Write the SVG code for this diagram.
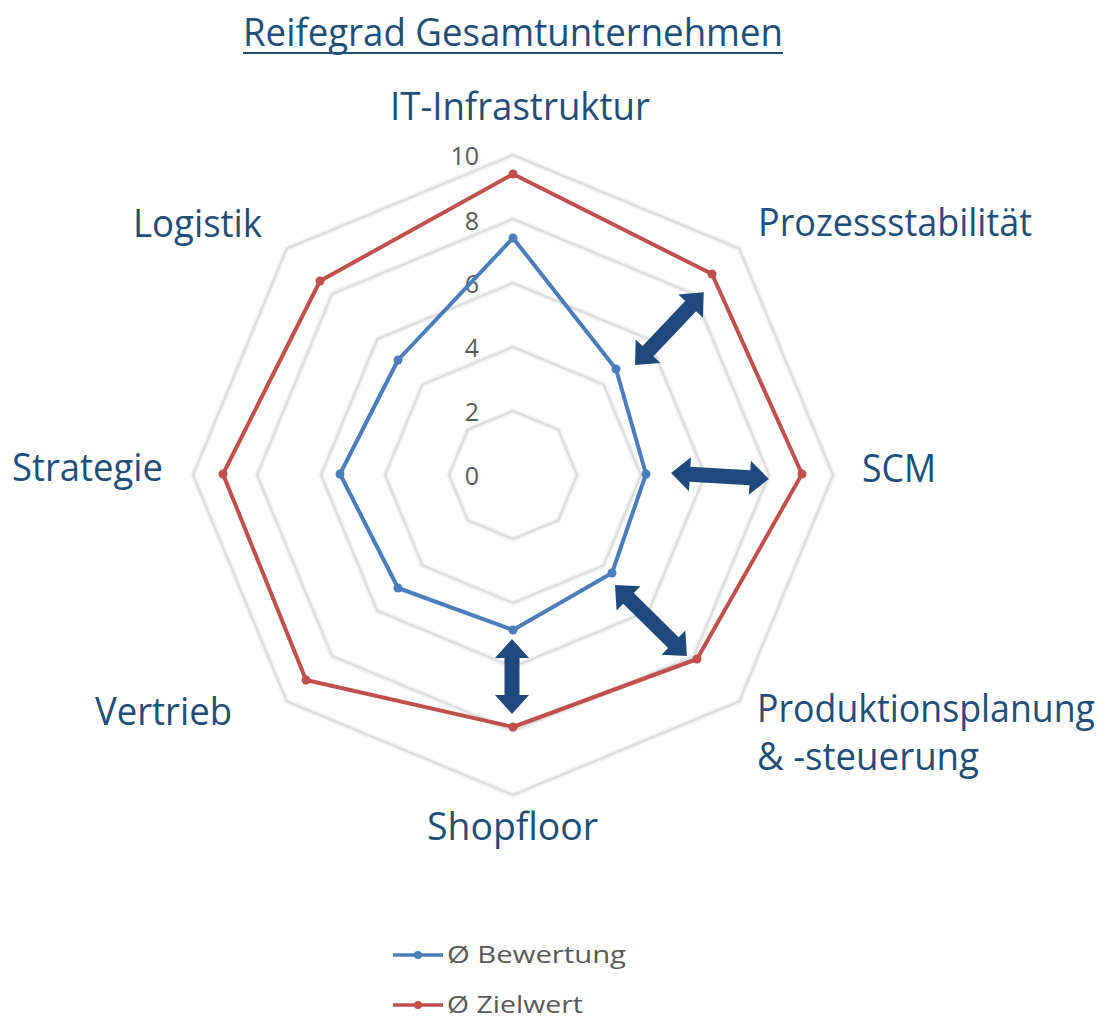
<svg xmlns="http://www.w3.org/2000/svg" width="1111" height="1019" viewBox="0 0 1111 1019">
<style>
.lbl{font-family:"Open Sans","Liberation Sans",sans-serif;font-size:38px;fill:#1f4e79}
.tick{font-family:"Open Sans","Liberation Sans",sans-serif;font-size:25px;fill:#595959;text-anchor:end}
.leg{font-family:"Open Sans","Liberation Sans",sans-serif;font-size:24px;fill:#595959}
.ringglow{fill:none;stroke:#f0f0f0;stroke-width:5;stroke-linejoin:miter}
.ring{fill:none;stroke:#d9d9d9;stroke-width:1.6;stroke-linejoin:miter}
.blue{fill:none;stroke:#4a7ebb;stroke-width:4;stroke-linejoin:round}
.red{fill:none;stroke:#c0504d;stroke-width:4;stroke-linejoin:round}
.bdot{fill:#4a7ebb}
.rdot{fill:#c0504d}
.arr{fill:#1f497d}
</style>
<rect width="1111" height="1019" fill="#ffffff"/>

<g id="title">
<text class="lbl" x="243" y="46" font-size="36" textLength="540" lengthAdjust="spacingAndGlyphs">Reifegrad Gesamtunternehmen</text>
<line x1="243" y1="53" x2="783" y2="53" stroke="#1f4e79" stroke-width="2"/>
</g>

<g id="grid">
<polygon class="ringglow" points="513,411 558.3,429.7 577,475 558.3,520.3 513,539 467.7,520.3 449,475 467.7,429.7"/>
<polygon class="ringglow" points="513,347 603.5,384.5 641,475 603.5,565.5 513,603 422.5,565.5 385,475 422.5,384.5"/>
<polygon class="ringglow" points="513,283 648.8,339.2 705,475 648.8,610.8 513,667 377.2,610.8 321,475 377.2,339.2"/>
<polygon class="ringglow" points="513,219 694,294 769,475 694,656 513,731 332,656 257,475 332,294"/>
<polygon class="ringglow" points="513,155 739.3,248.7 833,475 739.3,701.3 513,795 286.7,701.3 193,475 286.7,248.7"/>
<polygon class="ring" points="513,411 558.3,429.7 577,475 558.3,520.3 513,539 467.7,520.3 449,475 467.7,429.7"/>
<polygon class="ring" points="513,347 603.5,384.5 641,475 603.5,565.5 513,603 422.5,565.5 385,475 422.5,384.5"/>
<polygon class="ring" points="513,283 648.8,339.2 705,475 648.8,610.8 513,667 377.2,610.8 321,475 377.2,339.2"/>
<polygon class="ring" points="513,219 694,294 769,475 694,656 513,731 332,656 257,475 332,294"/>
<polygon class="ring" points="513,155 739.3,248.7 833,475 739.3,701.3 513,795 286.7,701.3 193,475 286.7,248.7"/>
</g>

<g id="ticks">
<text class="tick" x="479" y="165">10</text>
<text class="tick" x="479" y="230">8</text>
<text class="tick" x="479" y="293">6</text>
<text class="tick" x="479" y="357">4</text>
<text class="tick" x="479" y="421">2</text>
<text class="tick" x="479" y="485">0</text>
</g>

<g id="series-zielwert">
<polygon class="red" points="513,174 712,274 802,474 697,659 513,727 306,680 223,474 320,281"/>
<circle class="rdot" cx="513" cy="174" r="4.5"/>
<circle class="rdot" cx="712" cy="274" r="4.5"/>
<circle class="rdot" cx="802" cy="474" r="4.5"/>
<circle class="rdot" cx="697" cy="659" r="4.5"/>
<circle class="rdot" cx="513" cy="727" r="4.5"/>
<circle class="rdot" cx="306" cy="680" r="4.5"/>
<circle class="rdot" cx="223" cy="474" r="4.5"/>
<circle class="rdot" cx="320" cy="281" r="4.5"/>
</g>

<g id="series-bewertung">
<polygon class="blue" points="513,238 616,369 646,474 612,573 513,630 398,588 340,474 398,360"/>
<circle class="bdot" cx="513" cy="238" r="4.5"/>
<circle class="bdot" cx="616" cy="369" r="4.5"/>
<circle class="bdot" cx="646" cy="474" r="4.5"/>
<circle class="bdot" cx="612" cy="573" r="4.5"/>
<circle class="bdot" cx="513" cy="630" r="4.5"/>
<circle class="bdot" cx="398" cy="588" r="4.5"/>
<circle class="bdot" cx="340" cy="474" r="4.5"/>
<circle class="bdot" cx="398" cy="360" r="4.5"/>
</g>

<g id="connectors">
<path class="arr" transform="translate(635,365) rotate(-46.6)" d="M0,0 L19,-17 L19,-7.5 L81,-7.5 L81,-17 L100,0 L81,17 L81,7.5 L19,7.5 L19,17 Z"/>
<path class="arr" transform="translate(671,473) rotate(3.5)" d="M0,0 L19,-17 L19,-7.5 L79,-7.5 L79,-17 L98,0 L79,17 L79,7.5 L19,7.5 L19,17 Z"/>
<path class="arr" transform="translate(615,585) rotate(44.6)" d="M0,0 L19,-17 L19,-7.5 L82,-7.5 L82,-17 L101,0 L82,17 L82,7.5 L19,7.5 L19,17 Z"/>
<path class="arr" transform="translate(512,639) rotate(90)" d="M0,0 L19,-17 L19,-7.5 L56,-7.5 L56,-17 L75,0 L56,17 L56,7.5 L19,7.5 L19,17 Z"/>
</g>

<g id="axis-it"><text class="lbl" x="390" y="120" textLength="260" lengthAdjust="spacingAndGlyphs">IT-Infrastruktur</text></g>
<g id="axis-prozess"><text class="lbl" x="758" y="236" textLength="274" lengthAdjust="spacingAndGlyphs">Prozessstabilität</text></g>
<g id="axis-scm"><text class="lbl" x="862" y="482" textLength="74" lengthAdjust="spacingAndGlyphs">SCM</text></g>
<g id="axis-produktion">
<text class="lbl" x="757" y="722" font-size="33" textLength="338" lengthAdjust="spacingAndGlyphs">Produktionsplanung</text>
<text class="lbl" x="757" y="770" font-size="36" textLength="222" lengthAdjust="spacingAndGlyphs">&amp; -steuerung</text>
</g>
<g id="axis-shopfloor"><text class="lbl" x="427" y="840" textLength="171" lengthAdjust="spacingAndGlyphs">Shopfloor</text></g>
<g id="axis-vertrieb"><text class="lbl" x="95" y="725" textLength="137" lengthAdjust="spacingAndGlyphs">Vertrieb</text></g>
<g id="axis-strategie"><text class="lbl" x="12" y="481" textLength="151" lengthAdjust="spacingAndGlyphs">Strategie</text></g>
<g id="axis-logistik"><text class="lbl" x="133" y="237" textLength="129" lengthAdjust="spacingAndGlyphs">Logistik</text></g>

<g id="legend">
<line x1="393" y1="955" x2="443" y2="955" stroke="#4a7ebb" stroke-width="3.5"/>
<circle class="bdot" cx="418" cy="955" r="4"/>
<text class="leg" x="447" y="963" textLength="179" lengthAdjust="spacingAndGlyphs">Ø Bewertung</text>
<line x1="393" y1="1005" x2="443" y2="1005" stroke="#c0504d" stroke-width="3.5"/>
<circle class="rdot" cx="418" cy="1005" r="4"/>
<text class="leg" x="447" y="1013" textLength="136" lengthAdjust="spacingAndGlyphs">Ø Zielwert</text>
</g>
</svg>
